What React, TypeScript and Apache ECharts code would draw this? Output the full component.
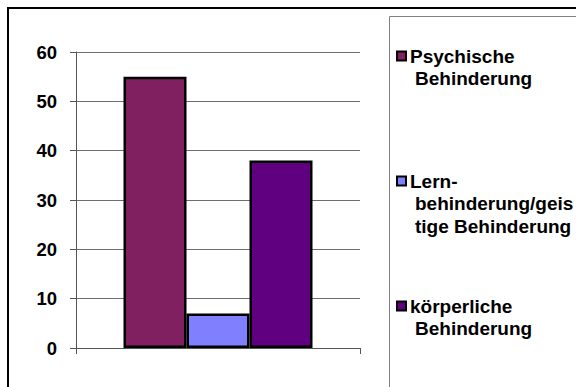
import React, { useEffect, useRef } from "react";
import * as echarts from "echarts";

// Anteile nach Art der Behinderung (in %)
const categories: string[] = [""];
const seriesNames: string[] = [
  "Psychische Behinderung",
  "Lernbehinderung/geistige Behinderung",
  "körperliche Behinderung",
];
const values: number[] = [55, 7, 38];
// Legend text as it wraps inside the legend box
const legendLines: string[][] = [
  ["Psychische", "Behinderung"],
  ["Lern-", "behinderung/geis", "tige Behinderung"],
  ["körperliche", "Behinderung"],
];
const yMin = 0;
const yMax = 60;
const yInterval = 10;

const barColors = ["#802060", "#8080FF", "#600080"];
const FONT = "'Liberation Sans', Arial, sans-serif";

export default function App() {
  const ref = useRef<HTMLDivElement>(null);

  useEffect(() => {
    if (!ref.current) return;
    const chart = echarts.init(ref.current, undefined, { renderer: "svg" });

    const legendGraphics: any[] = [];
    const legendTop = 56;
    const legendStep = 125;
    legendLines.forEach((lines, i) => {
      const cy = legendTop + i * legendStep;
      legendGraphics.push({
        type: "rect",
        shape: { x: 397, y: cy - 4.5, width: 9, height: 9 },
        style: { fill: barColors[i], stroke: "#000", lineWidth: 2 },
      });
      lines.forEach((line, j) => {
        legendGraphics.push({
          type: "text",
          x: j === 0 ? 410 : 415,
          y: cy + j * 22.7,
          style: {
            text: line,
            fill: "#000",
            font: `bold 19px ${FONT}`,
            textAlign: "left",
            textVerticalAlign: "middle",
          },
        });
      });
    });

    chart.setOption({
      animation: false,
      backgroundColor: "#fff",
      textStyle: { fontFamily: FONT },
      grid: { left: 76, top: 52, right: 216, bottom: 39, containLabel: false },
      xAxis: {
        type: "category",
        data: categories,
        axisLine: { lineStyle: { color: "#555", width: 1 } },
        axisTick: { show: true, length: 6, lineStyle: { color: "#555" } },
        axisLabel: { show: false },
        splitLine: { show: false },
      },
      yAxis: {
        type: "value",
        min: yMin,
        max: yMax,
        interval: yInterval,
        axisLine: { show: true, lineStyle: { color: "#555", width: 1 } },
        axisTick: { show: true, length: 6, lineStyle: { color: "#555" } },
        axisLabel: {
          margin: 19,
          color: "#000",
          fontSize: 18.5,
          fontWeight: "bold",
          fontFamily: FONT,
        },
        splitLine: { show: true, lineStyle: { color: "#6e6e6e", width: 1 } },
      },
      series: seriesNames.map((name, i) => ({
        name,
        type: "bar",
        data: [values[i]],
        barWidth: 63,
        barGap: "0%",
        itemStyle: {
          color: barColors[i],
          borderColor: "#000",
          borderWidth: 2.5,
        },
      })),
      graphic: [
        {
          type: "rect",
          shape: { x: 8, y: 8, width: 620, height: 420 },
          style: { fill: "none", stroke: "#000", lineWidth: 2 },
          silent: true,
        },
        {
          type: "rect",
          shape: { x: 389.5, y: 16.5, width: 220, height: 400 },
          style: { fill: "none", stroke: "#808080", lineWidth: 1 },
          silent: true,
        },
        ...legendGraphics,
      ],
    });

    return () => chart.dispose();
  }, []);

  return (
    <div
      ref={ref}
      style={{
        position: "fixed",
        left: 0,
        top: 0,
        width: 576,
        height: 387,
        overflow: "hidden",
      }}
    />
  );
}
